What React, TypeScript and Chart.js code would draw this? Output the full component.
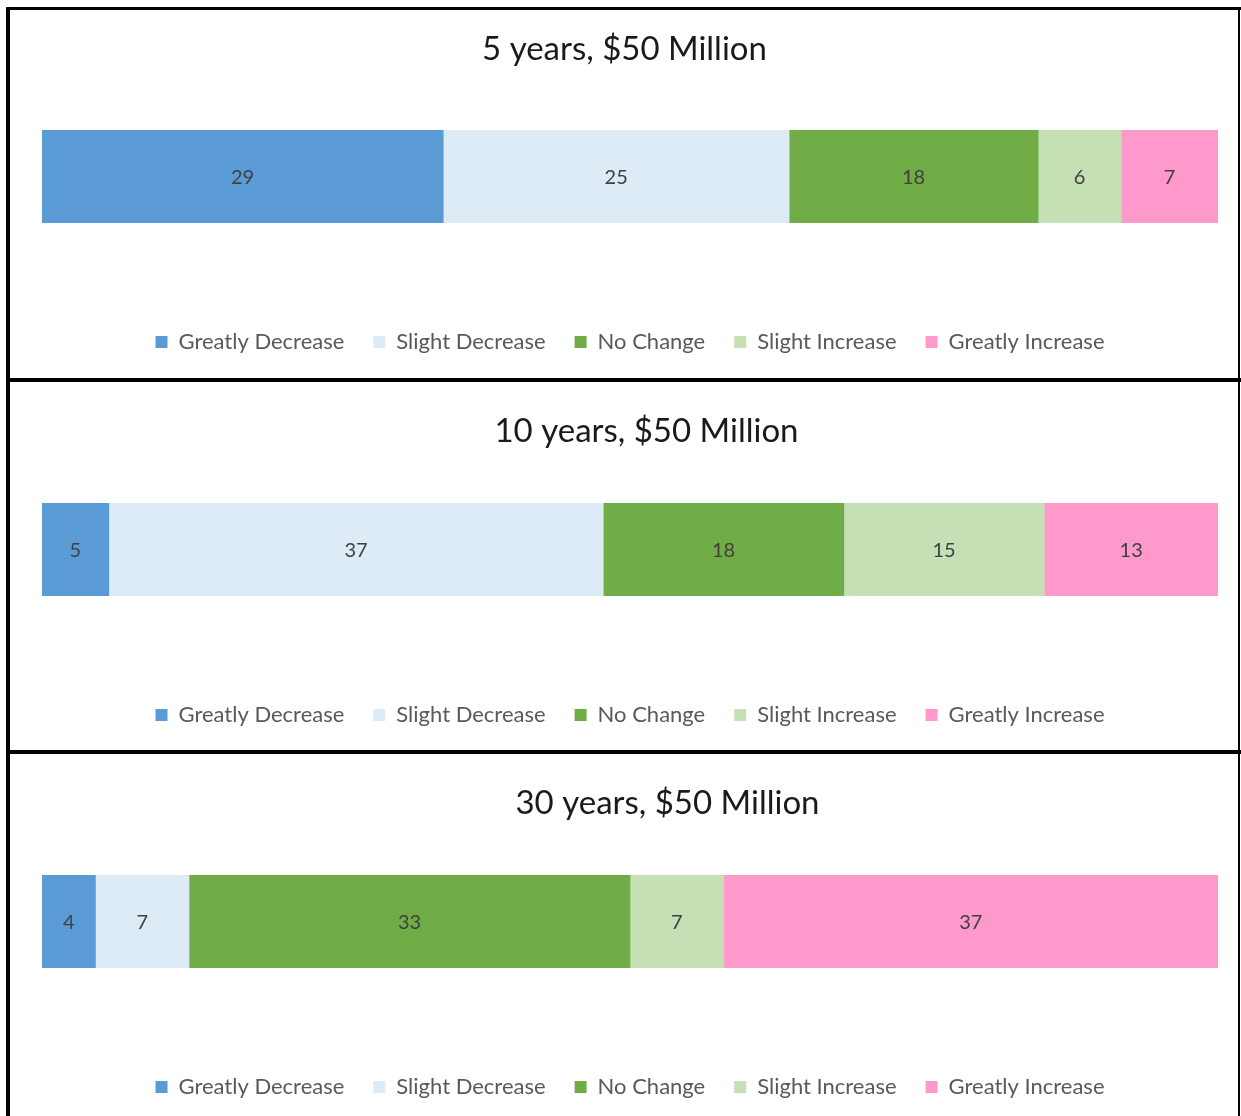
import React, { useEffect, useRef } from "react";
import { Chart, registerables } from "chart.js";

Chart.register(...registerables);

const categories = ["Greatly Decrease", "Slight Decrease", "No Change", "Slight Increase", "Greatly Increase"];
const colors = ["#5B9BD5", "#DDEBF7", "#70AD47", "#C5E0B4", "#FF99CC"];
const titles = ["5 years, $50 Million", "10 years, $50 Million", "30 years, $50 Million"];
const values5yr = [29, 25, 18, 6, 7];
const values10yr = [5, 37, 18, 15, 13];
const values30yr = [4, 7, 33, 7, 37];
const panelValues = [values5yr, values10yr, values30yr];

const FONT = "Lato";

type PanelLayout = { top: number; height: number; titleCenter: number; titleShift: number };
const panelLayouts: PanelLayout[] = [
  { top: 10, height: 367, titleCenter: 39.5, titleShift: -5.5 },
  { top: 383, height: 367, titleCenter: 48, titleShift: 16.5 },
  { top: 755, height: 361, titleCenter: 48, titleShift: 37.5 },
];

const TITLE_SIZE = 33;
const LEGEND_SIZE = 22;
const LEGEND_PAD = 29;
const BAR_TOP = 120;
const BAR_BOTTOM = 213;
const LEGEND_CENTER = 332;

const valueLabels = {
  id: "valueLabels",
  afterDatasetsDraw(chart: any) {
    const ctx = chart.ctx;
    ctx.save();
    ctx.font = `20px ${FONT}`;
    ctx.fillStyle = "#404040";
    ctx.textAlign = "center";
    ctx.textBaseline = "middle";
    chart.data.datasets.forEach((ds: any, i: number) => {
      const meta = chart.getDatasetMeta(i);
      meta.data.forEach((el: any, j: number) => {
        const p = el.getProps(["x", "y", "base"], true);
        ctx.fillText(String(ds.data[j]), (p.x + p.base) / 2, p.y + 1);
      });
    });
    ctx.restore();
  },
};

const titleShift = {
  id: "titleShift",
  afterLayout(chart: any, _args: any, opts: any) {
    const t = chart.titleBlock;
    if (t && opts && opts.shift) {
      t.left += opts.shift;
      t.right += opts.shift;
    }
  },
};

function Panel({ values, title, layout }: { values: number[]; title: string; layout: PanelLayout }) {
  const ref = useRef<HTMLCanvasElement | null>(null);
  useEffect(() => {
    if (!ref.current) return;
    const total = values.reduce((a, b) => a + b, 0);
    const lineH = TITLE_SIZE * 1.2;
    const padTop = layout.titleCenter - lineH / 2;
    const padBottom = BAR_TOP - padTop - lineH;
    const legendTop = LEGEND_CENTER - LEGEND_PAD - LEGEND_SIZE / 2;
    const legendHeight = LEGEND_SIZE + LEGEND_PAD + 10;
    const bottomPad = layout.height - (legendTop + legendHeight);
    const chart = new Chart(ref.current, {
      type: "bar",
      data: {
        labels: [""],
        datasets: categories.map((c, i) => ({
          label: c,
          data: [values[i]],
          backgroundColor: colors[i],
          borderWidth: 0,
          categoryPercentage: 1,
          barPercentage: 1,
        })),
      },
      options: {
        indexAxis: "y",
        animation: false,
        responsive: false,
        maintainAspectRatio: false,
        layout: { padding: { left: 32, right: 20, top: 0, bottom: bottomPad } },
        scales: {
          x: {
            stacked: true,
            min: 0,
            max: total,
            display: true,
            grid: { display: false },
            border: { display: false },
            ticks: { display: false },
            afterFit: (scale: any) => {
              scale.height = legendTop - BAR_BOTTOM;
            },
          },
          y: { stacked: true, display: false },
        },
        plugins: {
          title: {
            display: true,
            text: title,
            color: "#1a1a1a",
            font: { family: FONT, size: TITLE_SIZE, weight: "normal", lineHeight: 1.2 },
            padding: { top: padTop, bottom: padBottom },
          },
          legend: {
            display: true,
            position: "bottom",
            labels: {
              boxWidth: 12,
              boxHeight: 12,
              padding: LEGEND_PAD,
              color: "#595959",
              font: { family: FONT, size: LEGEND_SIZE },
            },
          },
          tooltip: { enabled: false },
          titleShift: { shift: layout.titleShift },
        } as any,
      },
      plugins: [valueLabels, titleShift],
    });
    return () => chart.destroy();
  }, [values, title, layout]);
  return (
    <canvas
      ref={ref}
      width={1228}
      height={layout.height}
      style={{ position: "absolute", left: 10, top: layout.top, width: 1228, height: layout.height }}
    />
  );
}

export default function App() {
  const line = (s: React.CSSProperties) => <div style={{ position: "absolute", background: "#000", ...s }} />;
  return (
    <div style={{ position: "absolute", left: 0, top: 0, width: 1241, height: 1116, background: "#fff", overflow: "hidden" }}>
      {panelValues.map((v, i) => (
        <Panel key={i} values={v} title={titles[i]} layout={panelLayouts[i]} />
      ))}
      {line({ left: 6, top: 7, width: 1235, height: 3 })}
      {line({ left: 6, top: 7, width: 4, height: 1109 })}
      {line({ left: 1238, top: 7, width: 2, height: 1109 })}
      {line({ left: 6, top: 378, width: 1235, height: 4 })}
      {line({ left: 6, top: 750, width: 1235, height: 4 })}
    </div>
  );
}
